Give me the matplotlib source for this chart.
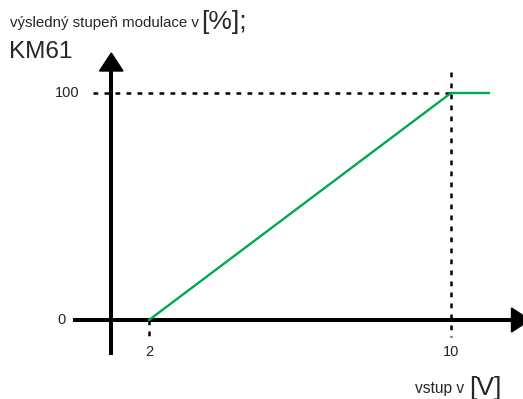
import matplotlib
matplotlib.use("Agg")
import matplotlib.pyplot as plt
from matplotlib.patches import Polygon

plt.rcParams["font.family"] = ["Liberation Sans", "DejaVu Sans"]

# data
input_v = [2, 10, 11]
modulation = [0, 100, 100]
x_ticks = [2, 10]
x_tick_labels = ["2", "10"]
y_ticks = [0, 100]
y_tick_labels = ["0", "100"]

W, H = 523, 399
fig = plt.figure(figsize=(W / 100, H / 100), dpi=100)
ax = fig.add_axes([0, 0, 1, 1])
sx = 37.75
x0px = 73.5
sy = 2.27
y0px = 320
ax.set_xlim(-x0px / sx, (W - x0px) / sx)
ax.set_ylim(-(H - y0px) / sy, y0px / sy)
ax.axis("off")

def px2x(p):
    return (p - x0px) / sx

def px2y(p):
    return (y0px - p) / sy

def fpt(xp, yp):
    return (xp / W, 1 - yp / H)

TXT = "#262626"
yaxis_x = px2x(111.3)
# axes lines
ax.plot([px2x(73), px2x(513)], [0, 0], color="black", lw=2.9, solid_capstyle="butt", zorder=3)
ax.plot([yaxis_x, yaxis_x], [px2y(355), px2y(69)], color="black", lw=2.9, solid_capstyle="butt", zorder=3)
# arrow heads
fig.patches.append(Polygon([fpt(99.5, 71), fpt(123, 71), fpt(111.3, 53)], closed=True,
                           transform=fig.transFigure, color="black", zorder=4))
fig.patches.append(Polygon([fpt(511.5, 308), fpt(511.5, 332), fpt(530, 320)], closed=True,
                           transform=fig.transFigure, color="black", zorder=4))

# dotted guides
dash = (0, (1.9, 2.5))
ax.plot([px2x(93), 10], [100, 100], color="black", lw=1.8, linestyle=dash, zorder=2)
ax.plot([10, 10], [px2y(72), px2y(337)], color="black", lw=1.8, linestyle=dash, zorder=2)
ax.plot([2, 2], [0, px2y(337)], color="black", lw=1.8, linestyle=dash, zorder=2)

# green line
ax.plot(input_v, modulation, color="#00a850", lw=1.7, zorder=5)

# tick labels
for xv, lab in zip(x_ticks, x_tick_labels):
    ax.text(xv, px2y(352), lab, ha="center", va="center", fontsize=10.5, color=TXT)
ax.text(px2x(66), 0, y_tick_labels[0], ha="right", va="center", fontsize=10.5, color=TXT)
ax.text(px2x(80), 100, y_tick_labels[1], ha="right", va="center", fontsize=10.5, color=TXT)

# titles
fig.text(*fpt(10, 27.5), "výsledný stupeň modulace v", fontsize=10.8, color=TXT,
         ha="left", va="baseline")
fig.text(*fpt(201, 29), "[%];", fontsize=19, color=TXT, ha="left", va="baseline")

fig.text(*fpt(9, 58.5), "KM61", fontsize=17.5, color=TXT, ha="left", va="baseline")

fig.text(*fpt(415, 393), "vstup v", fontsize=11.2, color=TXT, ha="left", va="baseline")
fig.text(*fpt(469, 395), "[V]", fontsize=19, color=TXT, ha="left", va="baseline")

fig.savefig("out.png", dpi=100)
